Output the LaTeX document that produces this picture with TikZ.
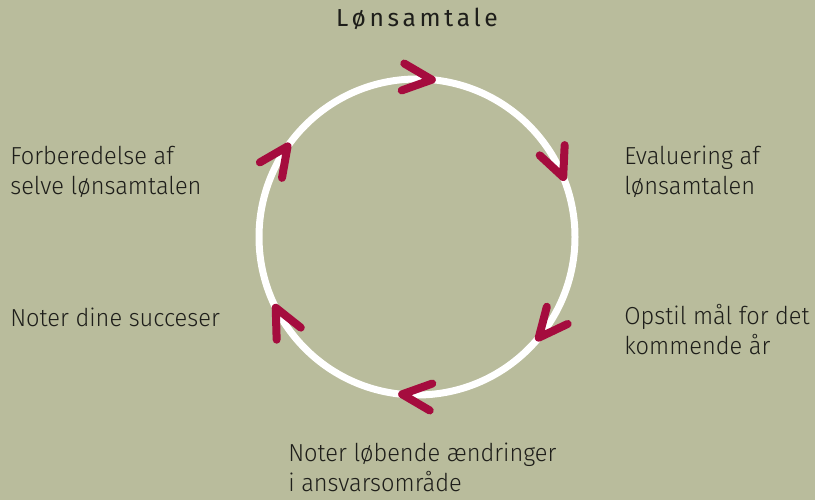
\documentclass[tikz,border=0pt]{standalone}
\usepackage{fontspec}
\setmainfont[FakeStretch=0.96]{Fira Sans Light}
\newfontfamily\titlefont[LetterSpace=15]{Fira Sans}
\definecolor{bgkhaki}{RGB}{185,188,156}
\definecolor{chevred}{RGB}{165,12,62}
\definecolor{txtdark}{RGB}{30,30,26}
\begin{document}
\begin{tikzpicture}[x=0.02cm,y=0.02cm,
  lbl/.style={anchor=base west, align=left, inner sep=0pt, text=txtdark,
    font=\fontsize{14}{17.6}\selectfont},
  ring/.style={draw=white, line width=0.14cm},
  chev/.style={draw=chevred, line width=0.16cm, line cap=round, line join=round}]
\fill[bgkhaki] (0,0) rectangle (815,500);
\useasboundingbox (0,0) rectangle (815,500);
\coordinate (c) at (417,263);
\draw[ring] (c) circle (158);
\foreach \a in {84.6,22.3,-39.6,-95.4,-153.4,145}{
  \begin{scope}[shift={(c)}, rotate=\a]
    \draw[chev] (171.5,29) -- (158,0) -- (144.5,29);
  \end{scope}
}
\node[anchor=base, inner sep=0pt, text=txtdark, font=\titlefont\fontsize{14}{17}\selectfont] (title) at (417,473) {Lønsamtale};
\node[lbl] (prep) at (10,305) {Forberedelse af\\selve lønsamtalen};
\node[lbl] (eval) at (624,305) {Evaluering af\\lønsamtalen};
\node[lbl] (goal) at (624,145) {Opstil mål for det\\kommende år};
\node[lbl] (note) at (288,8) {Noter løbende ændringer\\i ansvarsområde};
\node[lbl] (succ) at (10,173) {Noter dine succeser};
\end{tikzpicture}
\end{document}
